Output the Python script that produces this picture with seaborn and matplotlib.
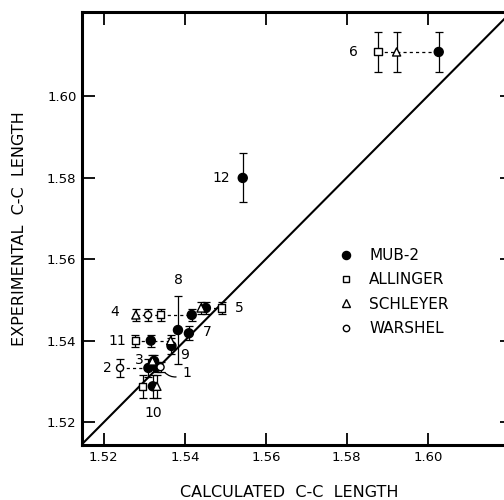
import pandas as pd
import numpy as np
import matplotlib.pyplot as plt
import seaborn as sns
from matplotlib.lines import Line2D

mol = [1, 1, 2, 2, 3, 3, 4, 4, 4, 4, 5, 5, 5, 6, 6, 6, 7, 8, 9, 10, 10, 10, 11, 11, 11, 12]
method = ['MUB-2', 'WARSHEL', 'MUB-2', 'WARSHEL', 'MUB-2', 'SCHLEYER',
          'MUB-2', 'SCHLEYER', 'WARSHEL', 'ALLINGER',
          'MUB-2', 'SCHLEYER', 'ALLINGER',
          'MUB-2', 'ALLINGER', 'SCHLEYER',
          'MUB-2', 'MUB-2', 'MUB-2',
          'MUB-2', 'ALLINGER', 'SCHLEYER',
          'MUB-2', 'ALLINGER', 'SCHLEYER',
          'MUB-2']
calc = [1.5330, 1.5340, 1.5310, 1.5240, 1.5324, 1.5320,
        1.5417, 1.5279, 1.5309, 1.5341,
        1.5452, 1.5440, 1.5491,
        1.6027, 1.5877, 1.5923,
        1.5410, 1.5383, 1.5367,
        1.5321, 1.5296, 1.5331,
        1.5316, 1.5277, 1.5365,
        1.5543]
exp = [1.5335, 1.5335, 1.5333, 1.5333, 1.5350, 1.5350,
       1.5463, 1.5463, 1.5463, 1.5463,
       1.5480, 1.5480, 1.5480,
       1.6108, 1.6108, 1.6108,
       1.5418, 1.5426, 1.5387,
       1.5288, 1.5288, 1.5288,
       1.5400, 1.5400, 1.5400,
       1.5799]
err = [0.0012, 0.0012, 0.0022, 0.0022, 0.0015, 0.0015,
       0.0015, 0.0015, 0.0015, 0.0015,
       0.0015, 0.0015, 0.0015,
       0.0050, 0.0050, 0.0050,
       0.0017, 0.0083, 0.0020,
       0.0028, 0.0028, 0.0028,
       0.0015, 0.0015, 0.0015,
       0.0060]

ticks = [1.52, 1.54, 1.56, 1.58, 1.60]
tick_labels = ['1.52', '1.54', '1.56', '1.58', '1.60']
legend_order = ['MUB-2', 'ALLINGER', 'SCHLEYER', 'WARSHEL']

df = pd.DataFrame({'mol': mol, 'method': method, 'calc': calc, 'exp': exp, 'err': err})

# Beschriftungen: Molekuel, Bezugsmarker, Versatz in Pixel
labels = [(1, 'WARSHEL', 26, -6), (2, 'WARSHEL', -13, 0), (3, 'SCHLEYER', -13, 1),
          (4, 'SCHLEYER', -21, 3), (5, 'ALLINGER', 18, 0), (6, 'ALLINGER', -25, 0),
          (7, 'MUB-2', 18, 1), (8, 'MUB-2', 0, 50), (9, 'MUB-2', 13, -9),
          (10, 'MUB-2', 0, -27), (11, 'ALLINGER', -18, 0), (12, 'MUB-2', -21, 0)]

sns.set_style('ticks')
plt.rcParams['font.family'] = ['DejaVu Sans']
plt.rcParams['text.color'] = 'black'
plt.rcParams['axes.labelcolor'] = 'black'

fig = plt.figure(figsize=(5.04, 5.0), dpi=100)
ax = fig.add_axes([82 / 504, 55 / 500, 430 / 504, 433 / 500])

# Diagonale y = x
ax.axline((1.52, 1.52), slope=1, color='black', lw=1.5, zorder=1)

# gestrichelte Verbindungen je Molekuel
sns.lineplot(data=df, x='calc', y='exp', units='mol', estimator=None, color='black',
             lw=0.9, linestyle=(0, (2.5, 2.5)), ax=ax, legend=False, zorder=1)

ax.errorbar(df['calc'], df['exp'], yerr=df['err'], fmt='none', ecolor='black',
            elinewidth=0.9, capsize=3, capthick=0.9, zorder=2)

pal = {'MUB-2': 'black', 'ALLINGER': 'white', 'SCHLEYER': 'white', 'WARSHEL': 'white'}
mk = {'MUB-2': 'o', 'ALLINGER': 's', 'SCHLEYER': '^', 'WARSHEL': 'o'}
sz = {'MUB-2': 42, 'ALLINGER': 26, 'SCHLEYER': 34, 'WARSHEL': 26}
sns.scatterplot(data=df, x='calc', y='exp', hue='method', style='method', size='method',
                palette=pal, markers=mk, sizes=sz, edgecolor='black', linewidth=1,
                legend=False, ax=ax, zorder=3)

for m, meth, dx, dy in labels:
    row = df[(df['mol'] == m) & (df['method'] == meth)].iloc[0]
    if m == 1:
        ax.annotate(str(m), xy=(row['calc'], row['exp']), xytext=(dx, dy),
                    textcoords='offset pixels', ha='center', va='center', fontsize=10,
                    arrowprops=dict(arrowstyle='-', connectionstyle='arc3,rad=-0.5',
                                    lw=0.9, color='black', shrinkA=2, shrinkB=5))
    else:
        ax.annotate(str(m), xy=(row['calc'], row['exp']), xytext=(dx, dy),
                    textcoords='offset pixels', ha='center', va='center', fontsize=10)

ax.set_xlim(1.5146, 1.6208)
ax.set_ylim(1.5144, 1.6206)
ax.set_xticks(ticks)
ax.set_xticklabels(tick_labels)
ax.set_yticks(ticks)
ax.set_yticklabels(tick_labels)
ax.tick_params(direction='in', length=9, width=1.3, top=True, right=True,
               labelsize=9.5, pad=4, colors='black')
for s in ax.spines.values():
    s.set_linewidth(2.2)
    s.set_color('black')

ax.set_xlabel('CALCULATED  C-C  LENGTH', fontsize=11.5)
ax.set_ylabel('EXPERIMENTAL  C-C  LENGTH', fontsize=11.5)
ax.xaxis.set_label_coords(0.481, -0.092)
ax.yaxis.set_label_coords(-0.128, 0.5)

handles = []
for meth in legend_order:
    handles.append(Line2D([], [], linestyle='none', marker=mk[meth],
                          markerfacecolor=pal[meth], markeredgecolor='black',
                          markersize=np.sqrt(sz[meth]) * 0.9, markeredgewidth=1))
leg = ax.legend(handles, legend_order, loc='upper left', bbox_to_anchor=(0.565, 0.487),
                frameon=False, fontsize=11, handlelength=1, handletextpad=1.0,
                labelspacing=0.62)
for t in leg.get_texts():
    t.set_color('black')

fig.savefig('out.png', dpi=100)
